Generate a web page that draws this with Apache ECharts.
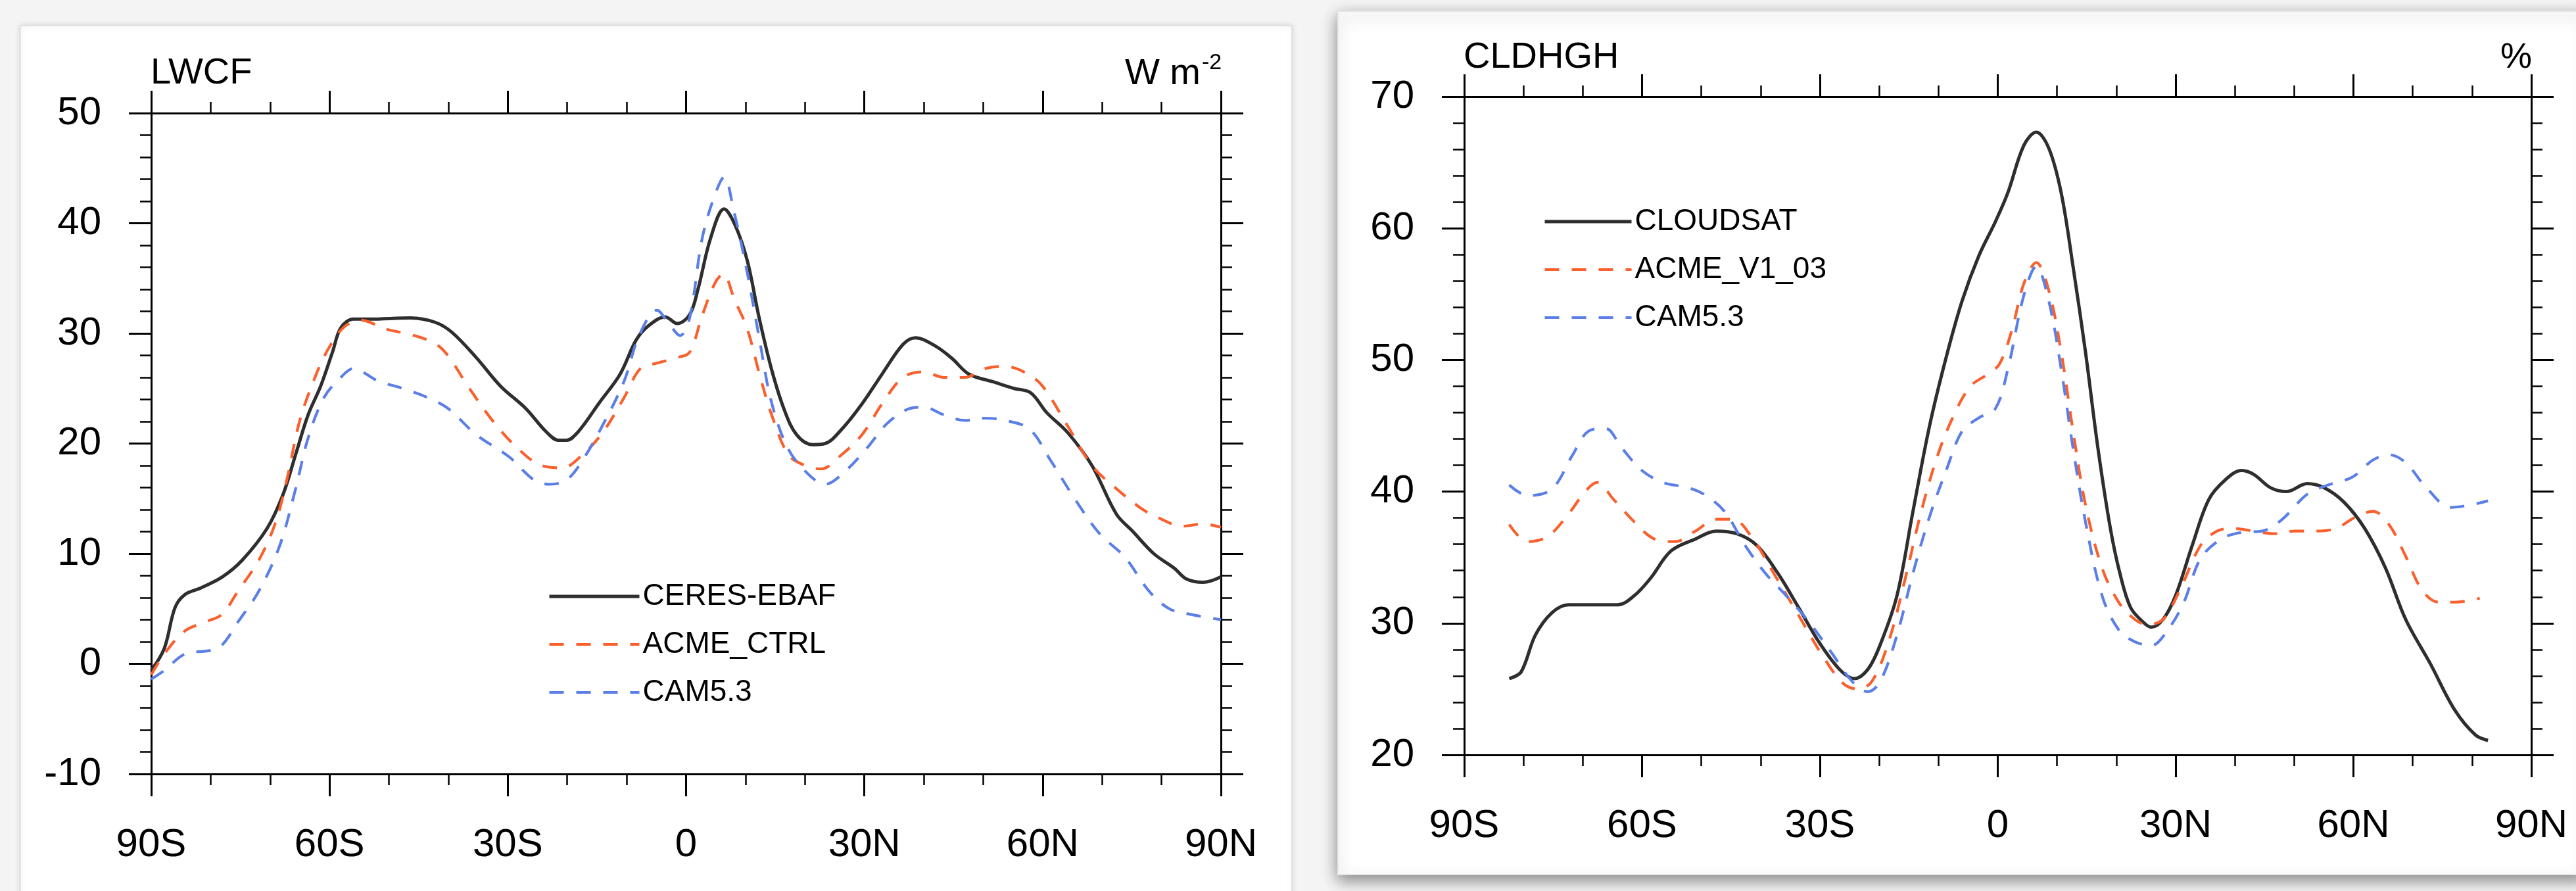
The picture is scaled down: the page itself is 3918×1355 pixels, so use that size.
<!DOCTYPE html>
<html>
<head>
<meta charset="utf-8">
<script src="https://cdn.jsdelivr.net/npm/echarts@6/dist/echarts.min.js"></script>
<style>
html,body{margin:0;padding:0;background:#f4f4f4;}
#chart{width:3918px;height:1355px;}
</style>
</head>
<body>
<div id="chart"></div>
<script>
// ---------- LWCF panel ----------
const lwcfCeresLat = [-90,-87.8,-86,-84.3,-81.6,-78,-74.7,-70.5,-67.8,-65.7,-63.6,-61.5,-59.5,-58.1,-56,-53.3,-46.4,-42.2,-39.4,-35.3,-31.2,-27,-23.6,-21.5,-20.1,-18.1,-14.6,-11.1,-8.4,-6.3,-3.5,-1.5,0.6,2,4.1,6.4,8.2,10.3,12.3,14.4,16.5,18.6,21.3,23.4,26.2,29.6,33.1,36.5,38.6,42.1,44.8,47.6,51.7,55.2,58,60.7,64.2,68.3,72.4,75.2,78.7,82.1,84.2,87,90];
const lwcfCeresVal = [-0.6,1.4,5.1,6.3,6.9,7.9,9.4,12.3,15.4,19,22.6,25.2,28.3,30.5,31.3,31.3,31.4,31,30.1,27.8,25.2,23.2,21.1,20.3,20.3,21.1,23.7,26.3,29.4,30.7,31.5,30.9,31.7,34,38.6,41.3,39.9,36.6,31.4,26.7,23.1,20.8,19.9,20,21.3,23.6,26.4,29,29.6,28.8,27.7,26.3,25.6,25,24.6,22.8,21,18,13.6,12,10,8.7,7.7,7.4,7.9];

const lwcfAcmeLat = [-90,-87.8,-84.3,-80.9,-78.1,-75.4,-71.9,-69.1,-67.1,-65,-62.3,-60.2,-57.5,-54.7,-50.6,-46.4,-42.3,-40.1,-36.7,-32.6,-28.4,-24.3,-20.8,-17.4,-13.9,-10.4,-7.7,-4.9,-1.5,0.6,2.7,4.8,6.2,8.2,10.3,12.4,14.4,17.2,20,22.7,26.2,29.6,33.1,36.5,40,43.4,46.9,50.3,53.7,57.2,60,64.2,68.3,72.4,76.6,79.3,83.5,87,90];
const lwcfAcmeVal = [-1,0.9,3,3.8,4.5,6.6,9.4,12.8,16.9,22.1,26.2,28.6,30.6,31.2,30.4,29.9,29.1,28,25.2,22.1,19.6,18,17.8,19,21.1,24.2,26.8,27.3,27.8,28.3,31.6,34.5,35.4,33,30.4,26.2,22.6,19,18,17.7,19,20.8,23.7,26,26.5,26,26,26.8,27,26.4,25.2,21.6,18,15.9,14.1,13.3,12.5,12.7,12.4];

const lwcfCamLat = [-90,-87.8,-84.3,-80.2,-78.1,-75.4,-71.9,-68.4,-65.7,-63.6,-60.9,-58.1,-56,-51.9,-47.7,-43.6,-40.1,-35.3,-29.8,-25.6,-22.9,-20.1,-17.4,-13.9,-10.4,-7.9,-4.9,-2.8,-1,0.6,2.7,4.8,6.4,8,10.3,12.4,14.4,17.2,20.6,23.4,26.8,30.3,33.8,37.2,40,43.4,46.9,50.3,53.7,57.8,61.3,65.5,69.6,73.8,77.9,81.3,84.8,90];
const lwcfCamVal = [-1.4,-0.6,0.9,1.2,1.7,3.8,6.6,10.7,15.9,20.5,24.2,26,26.8,25.7,25,24.2,23.2,20.8,18.8,16.7,16.3,16.7,18.5,21.8,25.7,29.8,32.1,30.8,29.8,31.4,38.6,42.5,44.2,41.2,35.5,29.3,23.7,19.5,17.2,16.3,17.5,19.5,21.8,23.1,23.3,22.6,22.1,22.3,22.1,21.3,18.5,14.9,11.8,9.7,6.6,5,4.5,4];

// ---------- CLDHGH panel ----------
const cldCloudsatLat = [-82.4,-80.4,-78,-75.2,-72.4,-68.3,-64.1,-61.3,-58.6,-55.1,-51,-47.5,-44,-40.6,-37.1,-33.6,-30.2,-26.7,-24.2,-21.9,-19.8,-17,-14.3,-11.5,-8.7,-6,-3.2,-0.4,1.7,4.4,6.5,8.6,10.7,12.7,14.8,16.9,19,20.6,22.4,24.5,25.9,27.9,30,32.8,35.6,38.4,41.1,43.2,46,48.7,52.2,55,58.4,61.9,65.4,68.8,73,77.1,80.6,82.7];
const cldCloudsatVal = [25.8,26.3,29.1,30.8,31.4,31.4,31.4,32.1,33.4,35.5,36.4,37,36.8,35.9,33.8,31.2,28.6,26.5,25.8,26.5,28.4,32.1,38.5,45,50.2,54.5,57.9,60.5,62.7,66.3,67.3,66.1,62.7,57.1,50.6,43.3,37.2,33.8,31.2,30.1,29.7,30.3,32.1,35.9,39.4,40.9,41.6,41.3,40.3,40,40.6,40.3,39.2,37.2,34.2,30.3,26.9,23.4,21.5,21.1];

const cldAcmeLat = [-82.4,-79.3,-75.9,-72.4,-69.6,-67.6,-64.8,-61.3,-57.9,-54.4,-51,-47.5,-44.7,-41.3,-37.8,-33.6,-29.5,-26,-23.5,-21.2,-18.4,-15.6,-12.9,-10.1,-7.3,-4.6,-1.8,0.3,2.4,4.4,6.5,8.6,10.7,12.7,14.8,17.6,20.4,23.1,25.2,27.9,30.7,34.2,37,39.7,43.2,46.7,50.1,53.6,57,60.5,63.3,66,68.8,71.6,74.4,77.1,81.3];
const cldAcmeVal = [37.5,36.2,36.6,38.3,40,40.7,39.4,37.7,36.4,36.2,37,37.9,37.9,36.4,33.8,30.6,27.5,25.4,25,25.6,28.6,33.4,38.5,42.8,45.9,48,48.9,49.7,52.3,55.8,57.4,55.3,50.6,44.6,39,34.2,31.6,30.3,29.9,30.3,32.5,35.9,37,37.2,37,36.8,37,37,37.2,38.1,38.5,37.5,35.1,32.5,31.6,31.6,31.9];

const cldCamLat = [-82.4,-79.3,-75.2,-71.7,-69,-66.2,-63.4,-60,-56.5,-52.3,-49.6,-46.1,-42.6,-39.2,-35.7,-32.2,-28.1,-24.6,-21.9,-19.8,-17,-14.3,-11.5,-8.7,-6,-3.2,-0.4,1.7,4.4,6.5,8.6,10.7,12.7,14.8,17.6,20.4,23.1,25.9,28.7,31.4,34.2,37.7,41.1,44.6,48,52.2,55.7,59.8,63.3,66,68.8,72.3,76.4,79.9,82.7];
const cldCamVal = [40.5,39.7,40.2,42.8,44.6,44.8,43.3,41.6,40.7,40.3,39.8,38.5,35.9,33.8,32.1,30.3,27.8,25.6,24.8,25.6,29.1,33.8,38.1,41.6,44.6,45.6,46.3,49.3,54.9,57.1,54.5,49.3,43.3,37.7,32.1,29.5,28.6,28.3,29.5,31.6,34.9,36.4,36.9,37,37.9,39.8,40.5,41.1,42.4,42.8,42.2,40.3,38.8,39,39.3];

const latTicks = [-90,-60,-30,0,30,60,90];
const lwcfTicks = [-10,0,10,20,30,40,50];
const cldTicks = [20,30,40,50,60,70];

// ---------- styling ----------
const FONT = '"Liberation Sans", Arial, Helvetica, sans-serif';
const BLACK = '#2e2e2e';
const ORANGE = '#fa5f2c';
const BLUE = '#5b7fe6';
const DASH = [22, 19];
const W_SOLID = 5;
const W_DASH = 4.2;

function pairs(lat, val){ return lat.map((x,i)=>[x, val[i]]); }
function latFmt(v){ return v < 0 ? (-v) + 'S' : (v > 0 ? v + 'N' : '0'); }

function xAx(grid, pos, labels){
  return {
    type:'value', gridIndex:grid, position:pos, min:latTicks[0], max:latTicks[latTicks.length-1], interval:30,
    axisLine:{show:true, onZero:false, lineStyle:{color:'#000', width:3}},
    axisTick:{show:true, inside:false, length:34, lineStyle:{color:'#000', width:3}},
    minorTick:{show:true, splitNumber:3, length:17, lineStyle:{color:'#000', width:2.5}},
    splitLine:{show:false},
    axisLabel:{show:labels, margin:78, formatter:latFmt, color:'#000', fontSize:60, fontFamily:FONT}
  };
}
function yAx(grid, pos, labels, ticks){
  return {
    type:'value', gridIndex:grid, position:pos, min:ticks[0], max:ticks[ticks.length-1], interval:10,
    axisLine:{show:true, onZero:false, lineStyle:{color:'#000', width:3}},
    axisTick:{show:true, inside:false, length:34, lineStyle:{color:'#000', width:3}},
    minorTick:{show:true, splitNumber:5, length:17, lineStyle:{color:'#000', width:2.5}},
    splitLine:{show:false},
    axisLabel:{show:labels, margin:76, color:'#000', fontSize:60, fontFamily:FONT}
  };
}
function line(name, data, xi, yi, color, dashed){
  return {
    type:'line', name:name, data:data, xAxisIndex:xi, yAxisIndex:yi,
    symbol:'none', smooth:0.35, clip:true, animation:false,
    lineStyle:{color:color, width:dashed?W_DASH:W_SOLID, type:dashed?DASH:'solid'},
    itemStyle:{color:color}
  };
}
function legItem(name, dashed){
  return {name:name, itemStyle:{opacity:0},
    lineStyle:{width:dashed?W_DASH:W_SOLID, type:dashed?DASH:'solid'}};
}

const chart = echarts.init(document.getElementById('chart'), null, {renderer:'canvas'});
chart.setOption({
  backgroundColor:'#f4f4f4',
  animation:false,
  graphic:[
    {type:'rect', z:-10, shape:{x:31, y:39, width:1934, height:1340},
      style:{fill:'#ffffff', stroke:'#e2e2e2', lineWidth:2, shadowBlur:8, shadowColor:'rgba(0,0,0,0.12)'}},
    {type:'rect', z:-10, shape:{x:2035, y:17, width:1900, height:1313},
      style:{fill:'#ffffff', stroke:'#e6e6e6', lineWidth:2, shadowBlur:22, shadowOffsetY:8, shadowColor:'rgba(0,0,0,0.45)'}},
    {type:'text', x:229, y:112, style:{text:'LWCF', font:'56px '+FONT, fill:'#000', align:'left', verticalAlign:'middle'}},
    {type:'text', x:1826, y:113, style:{text:'W m', font:'56px '+FONT, fill:'#000', align:'right', verticalAlign:'middle'}},
    {type:'text', x:1828, y:96, style:{text:'-2', font:'34px '+FONT, fill:'#000', align:'left', verticalAlign:'middle'}},
    {type:'text', x:2226, y:88, style:{text:'CLDHGH', font:'56px '+FONT, fill:'#000', align:'left', verticalAlign:'middle'}},
    {type:'text', x:3851, y:88, style:{text:'%', font:'54px '+FONT, fill:'#000', align:'right', verticalAlign:'middle'}}
  ],
  grid:[
    {left:230, top:172, width:1627, height:1005},
    {left:2227, top:147, width:1623, height:1001}
  ],
  xAxis:[ xAx(0,'bottom',true), xAx(0,'top',false), xAx(1,'bottom',true), xAx(1,'top',false) ],
  yAxis:[ yAx(0,'left',true,lwcfTicks), yAx(0,'right',false,lwcfTicks), yAx(1,'left',true,cldTicks), yAx(1,'right',false,cldTicks) ],
  legend:[
    {orient:'vertical', left:828, top:879, itemWidth:137, itemHeight:46, itemGap:27,
      data:[legItem('CERES-EBAF',false), legItem('ACME_CTRL',true), legItem('CAM5.3',true)], selectedMode:false,
      textStyle:{color:'#000', fontSize:46, fontFamily:FONT, lineHeight:46}},
    {orient:'vertical', left:2342, top:309, itemWidth:132, itemHeight:46, itemGap:27,
      data:[legItem('CLOUDSAT',false), legItem('ACME_V1_03',true), legItem('CAM5.3',true)], selectedMode:false,
      textStyle:{color:'#000', fontSize:46, fontFamily:FONT, lineHeight:46}}
  ],
  series:[
    line('CERES-EBAF', pairs(lwcfCeresLat, lwcfCeresVal), 0, 0, BLACK, false),
    line('ACME_CTRL', pairs(lwcfAcmeLat, lwcfAcmeVal), 0, 0, ORANGE, true),
    line('CAM5.3', pairs(lwcfCamLat, lwcfCamVal), 0, 0, BLUE, true),
    line('CLOUDSAT', pairs(cldCloudsatLat, cldCloudsatVal), 2, 2, BLACK, false),
    line('ACME_V1_03', pairs(cldAcmeLat, cldAcmeVal), 2, 2, ORANGE, true),
    line('CAM5.3', pairs(cldCamLat, cldCamVal), 2, 2, BLUE, true)
  ]
});
</script>
</body>
</html>
